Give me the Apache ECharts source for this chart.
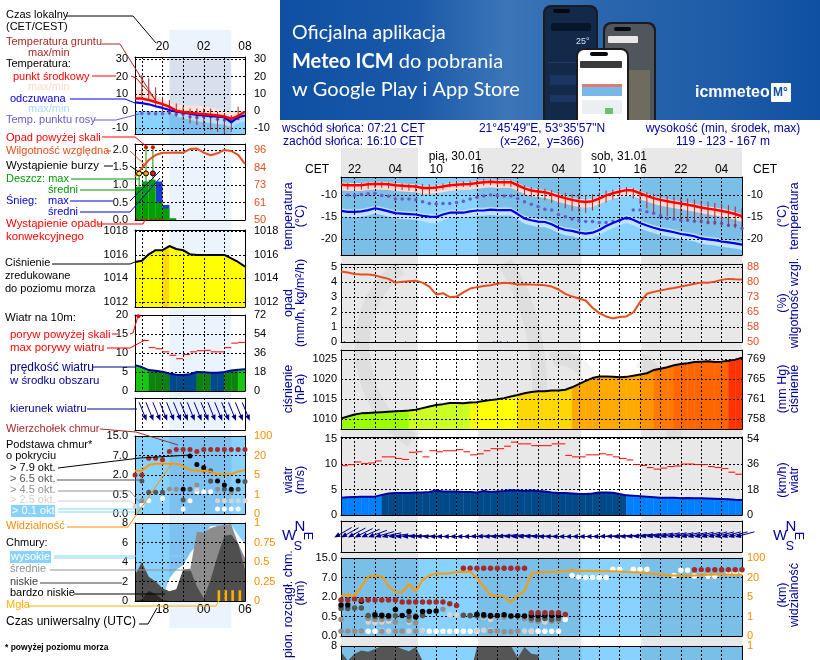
<!DOCTYPE html>
<html>
<head>
<meta charset="utf-8">
<title>Meteogram ICM</title>
<script src="https://cdn.jsdelivr.net/npm/echarts@6/dist/echarts.min.js"></script>
<style>
html, body { margin: 0; padding: 0; width: 820px; height: 660px; overflow: hidden; background: #fff; }
#chart { width: 820px; height: 760px; }
</style>
</head>
<body>
<div id="chart"></div>
<script>
// --- main meteogram, hour 0 = 20:00 CET 29.01, one value per hour
var mainTemp = [-7.7,-7.8,-7.8,-7.8,-7.6,-7.5,-7.5,-7.6,-7.8,-7.9,-8.0,-8.1,-8.4,-8.4,-8.3,-8.1,-7.8,-7.7,-7.6,-7.5,-7.3,-7.1,-7.0,-7.1,-7.1,-7.1,-7.8,-8.5,-9.0,-9.2,-9.4,-9.8,-10.3,-10.7,-11.1,-11.4,-11.6,-11.4,-10.8,-10.1,-9.6,-9.2,-8.9,-9.0,-9.6,-10.2,-10.7,-11.1,-11.4,-11.7,-11.9,-12.2,-12.5,-12.8,-13.1,-13.3,-13.6,-13.9,-14.3,-14.8];
var mainTempMax = [-7.2,-7.3,-7.3,-7.3,-7.1,-7.0,-7.0,-7.1,-7.3,-7.4,-7.5,-7.6,-7.9,-7.9,-7.8,-7.6,-7.3,-7.2,-7.1,-7.0,-6.8,-6.6,-6.5,-6.6,-6.6,-6.6,-7.3,-8.0,-8.5,-8.7,-8.9,-9.3,-9.8,-10.2,-10.6,-10.9,-11.1,-10.9,-10.3,-9.6,-9.1,-8.7,-8.4,-8.5,-9.1,-9.7,-10.2,-10.6,-10.9,-11.2,-11.4,-11.7,-12.0,-12.3,-12.6,-12.8,-13.1,-13.4,-13.8,-14.3];
var mainTempMin = [-9.0,-9.1,-9.1,-9.1,-8.9,-8.8,-8.8,-8.9,-9.1,-9.2,-9.3,-9.4,-9.7,-9.7,-9.6,-9.4,-9.1,-9.0,-8.9,-8.8,-8.6,-8.4,-8.3,-8.4,-8.4,-8.4,-9.1,-9.8,-10.3,-10.5,-10.7,-11.1,-11.6,-12.0,-12.4,-12.7,-12.9,-12.7,-12.1,-11.4,-10.9,-10.5,-10.2,-10.3,-10.9,-11.5,-12.0,-12.4,-12.7,-13.0,-13.2,-13.5,-13.8,-14.1,-14.4,-14.6,-14.9,-15.2,-15.6,-16.1];
var mainFeels = [-13.6,-13.8,-13.8,-13.7,-13.4,-13.0,-13.3,-13.7,-14.1,-14.2,-14.3,-14.4,-14.7,-14.9,-14.95,-14.4,-14.0,-14.0,-14.0,-13.7,-13.5,-13.5,-13.3,-13.4,-13.4,-13.4,-14.3,-15.3,-15.7,-16.0,-16.1,-16.6,-17.4,-17.9,-18.1,-18.5,-18.7,-18.5,-17.9,-17.0,-16.3,-15.7,-15.1,-15.6,-16.3,-16.9,-17.4,-17.8,-18.1,-18.4,-18.8,-19.0,-19.3,-19.8,-20.0,-20.2,-20.5,-20.7,-20.9,-21.2];
var mainFeelsMax = [-13.0,-13.2,-13.2,-13.1,-12.8,-12.4,-12.7,-13.1,-13.5,-13.6,-13.7,-13.8,-14.1,-14.3,-14.3,-13.8,-13.4,-13.4,-13.4,-13.1,-12.9,-12.9,-12.7,-12.8,-12.8,-12.8,-13.7,-14.7,-15.1,-15.4,-15.5,-16.0,-16.8,-17.3,-17.5,-17.9,-18.1,-17.9,-17.3,-16.4,-15.7,-15.1,-14.5,-15.0,-15.7,-16.3,-16.8,-17.2,-17.5,-17.8,-18.2,-18.4,-18.7,-19.2,-19.4,-19.6,-19.9,-20.1,-20.3,-20.6];
var mainFeelsMin = [-14.8,-15.0,-15.0,-14.9,-14.6,-14.2,-14.5,-14.9,-15.3,-15.4,-15.5,-15.6,-15.9,-16.3,-16.4,-15.7,-15.2,-15.2,-15.2,-14.9,-14.7,-14.7,-14.5,-14.6,-14.6,-14.6,-15.5,-16.5,-16.9,-17.2,-17.3,-17.8,-18.6,-19.1,-19.3,-19.7,-19.9,-19.7,-19.1,-18.2,-17.5,-16.9,-16.3,-16.8,-17.5,-18.1,-18.6,-19.0,-19.3,-19.6,-20.0,-20.2,-20.5,-21.0,-21.2,-21.4,-21.7,-21.9,-22.1,-22.4];
var mainDew = [null,-10,-10.1,-9.9,-9.7,-9.6,-10.1,-10.3,-10.9,-10.9,-10.9,-11.1,-11.5,-11.9,-12,-11.9,-11.9,-11.7,-11.4,-10.9,-10.5,-10.2,-10,-10.1,-10.2,-10.2,-10.8,-11.5,-12.1,-12.6,-13.2,-13.4,-14.4,-14.9,-15.4,-15.8,-16,-16,-16.2,-16.2,-16,-15.7,-15.3,-13.4,-13.4,-13.8,-14.1,-14.7,-15.3,-15.4,-15.7,-15.7,-15.9,-16,-16.2,-16.2,-16.4,-16.8,-16.9,-17.5];
var mainGroundMax = [null,-7.3,-7.3,-7.3,-7.1,-7.0,-7.0,-7.1,-7.3,-7.4,-7.5,-7.6,-7.5,-7.6,-7.6,-7.4,-7.0,-6.9,-6.9,-6.8,-6.6,-6.4,-6.4,-6.4,-6.5,-6.6,-7.0,-7.8,-8.2,-8.4,-8.6,-8.9,-9.3,-9.5,-9.8,-9.8,-10,-9.8,-9.5,-9,-8.8,-8.4,-8.2,-8.4,-9,-9.4,-9.8,-10,-10.2,-10.4,-10.6,-10.8,-11,-11.3,-11.5,-11.8,-12,-12.3,-12.6,-13];
var mainGroundMin = [null,-8.8,-8.9,-8.8,-8.6,-8.4,-8.4,-8.5,-8.8,-8.9,-9,-9.2,-10.2,-9.9,-9.2,-8.8,-8.3,-8.3,-8.2,-8.2,-8,-7.9,-7.8,-7.9,-8,-8.2,-9,-10,-10.4,-10.8,-11.2,-11.8,-12.4,-13,-13.6,-13.9,-14,-13.5,-12.6,-11.7,-11,-10.2,-10,-10.8,-12,-13,-14,-14.4,-14.8,-15.2,-15.4,-15.8,-16,-16.4,-16.6,-16.8,-17,-17.2,-17.5,-17.8];
var mainHumidity = [85.8,85.3,84.6,84.3,84.3,83.9,82.9,82.1,80.2,80.6,80.9,81.2,80.2,78.2,74.2,74.8,72.8,73.1,75.2,77.2,77.9,78.5,78.9,79.6,80.1,79.9,79.2,79.4,79.2,79.1,78.9,78.2,76.7,74.5,73.1,72.1,71.1,67.4,64.7,63.0,62.0,62.7,63,65,70.3,74.5,75.5,76.2,76.9,77.5,78.2,78.9,79.6,80.2,80.1,80.7,81.6,82.1,81.9,81.8];
var mainSnow = [[0,0.06],[2,0.05],[9,0.05],[22,0.05],[23,0.06],[24,0.05]];
var mainPressure = [1010.2,1010.7,1011.2,1011.5,1011.6,1011.7,1011.8,1011.9,1012.0,1012.1,1012.2,1012.4,1012.8,1013.2,1013.6,1013.8,1014.1,1014.1,1014.0,1014.2,1014.3,1014.6,1014.8,1015.0,1015.3,1015.7,1016.1,1016.5,1016.8,1017.0,1017.0,1017.2,1017.2,1017.4,1018.0,1018.8,1019.6,1020.3,1020.7,1020.7,1020.6,1020.5,1020.6,1020.9,1021.2,1021.5,1022.3,1022.6,1023.0,1023.5,1023.8,1024.0,1024.3,1024.4,1024.5,1024.3,1024.4,1024.6,1024.9,1025.4];
var mainWind = [3.4,3.5,3.55,3.6,3.6,3.6,3.95,4.2,4.3,4.3,4.3,4.4,4.4,4.5,4.8,4.6,4.6,4.6,4.5,4.5,4.4,4.7,4.5,4.6,4.7,4.85,4.8,4.7,4.8,4.7,4.6,4.4,4.3,4.3,4.2,4.1,4.1,4.2,4.4,4.4,4.35,4.1,3.85,3.8,3.7,3.6,3.5,3.4,3.4,3.4,3.3,3.35,3.3,3.3,3.25,3.2,3.15,3.1,3.0,2.95];
var mainGust = [9.67,9.87,10.4,10.07,10.2,10.6,11.4,11.4,11.1,10.9,12.3,12.4,11.4,12.6,12.4,12.6,12.6,12.8,12.4,11.8,12,12.6,13,13,13.5,14.3,13.95,13.95,13.6,13.6,13.6,13.95,13.95,11.7,11.4,11.4,11.8,11.8,12,11.8,11.4,11.1,10.8,9.9,9.7,9.3,9.0,9.2,9.5,9.6,10,10,9.9,9.9,9.5,9.3,9.1,8.4,8.0];
var mainWindDir = [60,61,62,64,66,70,74,78,82,85,86,87,88,89,90,90,90,90,90,89,88,87,86,85,84,84,85,86,87,88,89,90,90,90,90,90,90,90,89,88,87,86,85,84,82,81,80,79,78,78,78,77,77,76,76,75,75,75,75,75];
var mainVisibility = [5.8,7.1,6,13,24,27,24,13.5,8.9,8.6,15,9.2,18.2,28,37,35,37,42.4,42.4,44.8,19.5,13,6.5,5.8,5.3,3.9,6.5,9.6,35,40.8,42.4,43,44.8,47,50,47,47,47,46,46,46,44.8,43,42,41,38,35,32,28,28,27,27,28,29,31,32,32,32,31,31];
var mainCloudTop = [[0,1.77],[1,1.77],[2,1.85],[3,1.77],[4,1.77],[5,1.77],[6,1.77],[7,1.77],[8,1.77],[9,1.61],[10,1.61],[11,1.61],[12,1.61],[13,1.61],[14,1.61],[15,1.61],[16,1.48],[17,1.35],[18,10.8],[19,10.8],[20,10.8],[21,10.8],[22,10.8],[23,10.8],[24,10.8],[25,10.8],[26,10.8],[27,10.8],[28,0.78],[29,0.78],[30,0.78],[31,0.78],[32,0.78],[33,0.65],[52,10.2],[53,10.2],[54,10.2],[55,10.2],[56,10.2],[57,10.2],[58,10.2],[59,10.2]];
var mainBase79 = [[0,1.38],[1,1.38],[3,1.67],[5,0.63],[6,0.6],[7,0.55],[8,1.04],[9,0.58],[10,0.89],[11,0.49],[12,0.89],[13,0.89],[14,0.92],[20,0.68],[21,0.63],[22,0.58],[23,0.58],[24,0.63],[25,0.53],[26,0.55],[27,0.53],[28,0.58],[29,0.55],[30,0.58],[31,0.58],[32,0.58]];
var mainBase65 = [[0,1.12],[1,1.12],[2,1.15],[3,1.15],[4,0.58],[5,0.5],[6,0.5],[7,0.5],[8,0.55],[10,0.5],[11,0.53],[12,0.58],[18,0.6],[19,0.58],[20,0.55],[21,0.53],[22,0.5],[28,0.45],[29,0.42],[30,0.45],[31,0.42],[32,0.45]];
var mainBase45 = [[0,0.42],[4,0.45],[5,0.42],[6,0.42],[7,0.45],[8,0.36],[10,0.4],[11,0.34],[12,0.55],[15,1.05],[18,0.58],[19,0.53],[23,0.5],[24,0.48],[25,0.5],[26,0.5],[27,0.45],[28,0.4],[29,0.38],[31,0.38],[32,0.4],[0,0.12],[1,0.12],[2,0.12],[3,0.13],[6,0.12],[8,0.12],[9,0.12],[11,0.12],[22,0.12],[23,0.13],[24,0.11],[25,0.11],[26,0.13]];
var mainBase25 = [[4,0.36],[5,0.34],[6,0.36],[7,0.38],[10,0.36],[16,0.65],[17,0.62],[18,0.55],[21,0.48],[22,0.42],[30,0.36],[6,0.14],[7,0.13],[10,0.13],[12,0.14],[20,0.15],[21,0.15],[22,0.15],[27,0.13],[28,0.12]];
var mainBase01 = [[4,0.12],[5,0.12],[13,0.12],[14,0.12],[15,0.12],[16,0.12],[17,0.12],[18,0.12],[19,0.12],[20,0.13],[28,0.12],[29,0.12],[30,0.12],[31,0.12],[32,0.12],[33,0.42],[34,7.8],[35,7.2],[36,7],[37,7],[38,7],[39,7],[40,10.4],[41,10.4],[43,10.4],[44,10.4],[45,10.4],[49,7.8],[50,10],[51,10],[52,7.6],[53,10],[54,7.5],[55,7.5],[57,9],[58,9],[59,9]];
var mainCloudLow = [7.4,6.5,7.2,7.55,7.4,7.7,8,8,8,7.7,7.45,7.9,6.5,5,4,3,3,3,3,5,7.9,8,8,8,8,8,6.8,7.9,7.2,7.1,4,3,2,1,1,0,0,0,0,0,0,0,0,0,0,0,0,0,0,0,0,0,0,0,0,0,0,0,0,0];

// --- small meteogram on the left, hour 0 = 16:00 local time
var leftTemp = [7.3,7.2,6.4,5.2,4,2.5,0.2,-0.6,-1,-1.4,-1.7,-2.1,-2.6,-3.2,-4.5,-2.8,-0.4];
var leftTempMax = [13,11.8,10.5,9,6.8,5,3,3.2,3.2,3,2.8,2,1,0.6,-0.4,-0.6,0];
var leftTempMin = [7,6,5,4,2.8,1,0,-1,-1.5,-2,-2.5,-3,-3,-3.5,-5,-4,-2];
var leftFeels = [5,4.6,3.9,2.8,1.8,0.6,-0.4,-1,-1.5,-2.2,-2.6,-3,-3.3,-3.6,-6.5,-3.5,-2.7];
var leftFeelsMax = [0,0,0,0,0,0,-0.5,-1,-1,-1.5,-2,-2.5,-2.5,-3,-5,-3,-2];
var leftFeelsMin = [0,0,0,0,0,-0.5,-3,-4,-5,-6,-6.5,-7,-7.5,-8,-9.5,-7,-6];
var leftDew = [null,-1.4,-1.4,-1.6,-1.6,-1,-1.8,-1.8,-3.3,-3.7,-3.3,-3.3,-4.8,-5.2,-5.2,-4.3,null];
var leftGroundMax = [null,20.9,19,13.7,8.3,6.4,4.4,2.5,1.5,1.5,1.5,1.5,-0.4,-1.4,-2.3,2.5,null];
var leftGroundMin = [null,8.3,6.4,2.1,-0.4,-2.3,-3.3,-5.2,-7.2,-8.1,-9.1,-11,-12,-13,-12,-5.2,null];
var leftHumidity = [78.5,84,89.4,92.7,94.2,94.2,94.4,94.2,96.6,96.9,94.2,92.5,93.8,96,95.3,92.7,86.8];
var leftRain = [0.95,1.1,1.15,0.5,0.33,0.05];
var leftSnow = [0,0,0,1.1,0.43,0];
var leftRainMax = [[0.6,1.33],[1.6,2.05],[2.6,2.05]];
var leftOverScale = [[1.6,2.08],[2.6,2.08]];
var leftStorm = [0.6,1.6,2.6];
var stormColors = ['#ffee00','#ffa000','#ee1100'];
var leftConvective = [[0.3,0.02],[1,0.02],[1.6,0.02],[2.3,0.02],[3,0.02],[3.6,0.02],[4,0.02]];
var leftPressure = [1015.4,1015.5,1016.05,1016.4,1016.4,1016.75,1016.5,1016.4,1016.05,1016,1016,1016,1016,1016,1015.7,1015.4,1015];
var leftWind = [6.8,6.3,5.5,5.3,5.1,4.6,4.3,4.2,4.4,5,4.95,4.8,4.8,5,5.4,5.6,5.7];
var leftGust = [null,13.3,11.4,11.1,10.3,9.4,8.5,9.6,10.3,10.6,10.7,10.3,10.3,11.4,12.6,12.8];
var leftGustOver = [[0.5,19.7]];
var leftWindDir = [null,338,338,338,338,338,338,338,338,338,338,338,338,338,338,338,338];
var leftVisibility = [8.3,8.3,12.7,13.7,13.7,13.7,13.7,11.9,8.9,8.3,8.3,7.6,5.5,5.5,5.8,7.6,8.9];
var leftCloudTop = [[0,2],[1,2],[2,6.3],[3,6.3],[4,5.9],[5,8.6],[6,9.5],[7,9.5],[8,9.5],[9,8.6],[10,9.5],[11,9.5],[12,9.5],[13,9.5],[14,9.5],[15,9.5],[16,9.5]];
var leftBase79 = [[7,0.9],[8,6.9],[9,4.7],[10,3.9],[12,1.54],[13,1.23],[14,0.9],[15,1.54]];
var leftBase65 = [[1,1.54],[2,0.67],[3,0.67],[4,0.67],[7,0.36],[8,0.9],[10,3.3],[11,3.1],[11,1.54],[13,0.9],[15,0.9],[16,1.5]];
var leftBase45 = [[1,0.34],[5,0.9],[6,0.9],[9,1.23],[11,1.5],[12,0.9],[14,0.67]];
var leftBase25 = [[0,0.2],[5,0.85],[9,0.9],[12,0.34],[13,0.34],[14,0.34],[15,0.34],[16,0.34]];
var leftBase01 = [[1,0.23],[2,0.34],[4,0.4],[7,0.13],[8,0.34],[9,0.72],[10,0.72],[11,0.72],[12,0.13],[13,0.13],[14,0.13],[15,0.13]];
var leftCloudHigh = [0,0,0,0,0.3,2.3,3.2,3.7,4.9,5.8,6.6,7.7,7.7,7.8,7.8,6.8,5.8];
var leftCloudMid = [0,0,0,0,0.7,0.8,0.9,3,3.1,7.1,7,7.5,7.7,7.85,7.85,5.9,4.4];
var leftCloudLow = [2.7,3.95,2.5,2,1.3,1,1.2,3.2,3.3,1.5,0.3,2.2,4.6,6.7,6.8,5.9,3.2];
var leftCloudVeryLow = [0,0.2,1.05,0.7,0.1,0,0,0,0,0,0,0,0,0,0,0,0];
var leftFog = [[12.2,1.1],[13.2,1.1],[14.2,1.1],[15.25,1.1]];

// --- day and night bands, axis ticks
var mainNightBands = [[0,11.35],[20.17,35.35],[44.17,59]];
var leftNightBands = [[5,14]];
var mainGridHours = [2,5,8,11,14,17,20,23,26,29,32,35,38,41,44,47,50,53,56];
var mainLabelHours = [2,8,14,20,26,32,38,44,50,56];
var leftGridHours = [1,4,7,10,13];
var leftLabelHours = [4,10,16];
var baseStops = [0,0.5,2,7,15];
var baseLabels = ['0.0','0.5','2.0','7.0','15.0'];
var visStops = [0,1,5,20,100];

var FONT = '"Liberation Sans", Arial, sans-serif';
var NAVY = '#00009c';
var ORANGE = '#ff8c00';
var HUMID = '#e84e1c';
var TICK_SIZE = 11;

var grids = [], xAxes = [], yAxes = [], series = [];

function pad2(n) { return (n < 10 ? '0' : '') + n; }

function toStopAxis(v, stops) {
    for (var i = 0; i < stops.length - 1; i++) {
        if (v <= stops[i + 1]) return i + (v - stops[i]) / (stops[i + 1] - stops[i]);
    }
    return stops.length - 1;
}

function addPanel(o) {
    var idx = grids.length;
    grids.push({ left: o.left, top: o.top, width: o.width, height: o.height, show: false });
    var gridTicks = o.gridHours;
    var leftFmt = o.leftFormat || String;
    xAxes.push({
        type: 'value', gridIndex: idx, min: 0, max: o.xMax, position: 'bottom', z: 3,
        axisLine: { show: !o.hidden, onZero: false, lineStyle: { color: '#000' } },
        axisTick: { show: false, customValues: gridTicks },
        axisLabel: o.bottomLabels ? {
            customValues: o.bottomLabels.hours, margin: 3, color: '#000', fontFamily: FONT, fontSize: 12,
            formatter: o.bottomLabels.format
        } : { show: false, customValues: gridTicks },
        splitLine: { show: !o.hidden, lineStyle: { color: '#000', type: [2, 2], width: 1 } },
        show: !o.hidden
    });
    xAxes.push({
        type: 'value', gridIndex: idx, min: 0, max: o.xMax, position: 'top', z: 3,
        axisLine: { show: !o.hidden, onZero: false, lineStyle: { color: '#000' } },
        axisTick: { show: false, customValues: gridTicks },
        axisLabel: o.topLabels ? {
            customValues: o.topLabels.hours, margin: o.topLabels.margin, color: '#000', fontFamily: FONT, fontSize: 12,
            formatter: o.topLabels.format
        } : { show: false },
        splitLine: { show: false },
        show: !o.hidden
    });
    yAxes.push({
        type: 'value', gridIndex: idx, min: o.yMin, max: o.yMax, position: 'left', z: 3,
        axisLine: { show: !o.hidden, onZero: false, lineStyle: { color: '#000' } },
        axisTick: { show: false, customValues: o.ticks || [] },
        axisLabel: o.ticks ? {
            customValues: o.ticks, margin: o.leftMargin, color: '#000', fontFamily: FONT, fontSize: TICK_SIZE,
            formatter: leftFmt
        } : { show: false },
        splitLine: { show: !o.hidden && !!o.ticks, lineStyle: { color: '#000', type: [2, 2], width: 1 } },
        show: !o.hidden
    });
    yAxes.push({
        type: 'value', gridIndex: idx, min: o.rMin === undefined ? o.yMin : o.rMin, max: o.rMax === undefined ? o.yMax : o.rMax, position: 'right', z: 3,
        axisLine: { show: !o.hidden, onZero: false, lineStyle: { color: '#000' } },
        axisTick: { show: false, customValues: o.rTicks || o.ticks || [] },
        axisLabel: (o.rTicks || o.ticks) ? {
            customValues: o.rTicks || o.ticks, margin: o.rightMargin, color: o.rColor || '#000', fontFamily: FONT, fontSize: TICK_SIZE,
            formatter: o.rFormat || leftFmt
        } : { show: false },
        splitLine: { show: false },
        show: !o.hidden
    });
    return { grid: idx, x: 2 * idx, y: 2 * idx, yr: 2 * idx + 1 };
}

function pts(arr) {
    var res = [];
    for (var i = 0; i < arr.length; i++) res.push([i, arr[i]]);
    return res;
}

function lineSeries(p, arr, color, width, z) {
    series.push({
        type: 'line', xAxisIndex: p.x, yAxisIndex: p.y, data: pts(arr), showSymbol: false, silent: true,
        connectNulls: false, animation: false, z: z || 5, lineStyle: { color: color, width: width }
    });
}

function areaSeries(p, arr, color, z) {
    series.push({
        type: 'line', xAxisIndex: p.x, yAxisIndex: p.y, data: pts(arr), showSymbol: false, silent: true,
        animation: false, z: z || 2, lineStyle: { width: 0 }, areaStyle: { color: color, opacity: 1 }
    });
}

function dotSeries(p, data, color, size, z, mapFn, border) {
    series.push({
        type: 'scatter', xAxisIndex: p.x, yAxisIndex: p.y, silent: true, animation: false, z: z || 4, symbolSize: size,
        data: data.map(function (d) { return [d[0], mapFn ? mapFn(d[1]) : d[1]]; }),
        itemStyle: { color: color, borderColor: border || color, borderWidth: border ? 1 : 0, opacity: 1 }
    });
}

// rectangle over the whole height of the panel, from hour a to hour b
function bandSeries(p, bands, color, z) {
    series.push({
        type: 'custom', xAxisIndex: p.x, yAxisIndex: p.y, silent: true, animation: false, z: z, clip: true,
        data: bands,
        renderItem: function (params, api) {
            var a = api.coord([api.value(0), 0])[0], b = api.coord([api.value(1), 0])[0], cs = params.coordSys;
            return { type: 'rect', shape: { x: a, y: cs.y, width: b - a, height: cs.height }, style: { fill: color } };
        }
    });
}

function rangeFill(p, yHigh, yLow, xMax, color, z) {
    series.push({
        type: 'custom', xAxisIndex: p.x, yAxisIndex: p.y, silent: true, animation: false, z: z, clip: true,
        data: [[0, yHigh]],
        renderItem: function (params, api) {
            var a = api.coord([0, yHigh]), b = api.coord([xMax, yLow]);
            return { type: 'rect', shape: { x: a[0], y: a[1], width: b[0] - a[0], height: b[1] - a[1] }, style: { fill: color } };
        }
    });
}

function polyBand(p, hi, lo, color, z) {
    series.push({
        type: 'custom', xAxisIndex: p.x, yAxisIndex: p.y, silent: true, animation: false, z: z, clip: true,
        data: [[0, hi[0]]],
        renderItem: function (params, api) {
            var top = hi.map(function (v, i) { return api.coord([i, v]); });
            var bot = lo.map(function (v, i) { return api.coord([i, v]); }).reverse();
            return { type: 'polygon', shape: { points: top.concat(bot) }, style: { fill: color } };
        }
    });
}

// one trapezoid per hour, coloured from the value
function stepFill(p, arr, colorFn) {
    var data = [];
    for (var i = 0; i < arr.length - 1; i++) data.push([i, arr[i], arr[i + 1]]);
    series.push({
        type: 'custom', xAxisIndex: p.x, yAxisIndex: p.y, silent: true, animation: false, z: 2, clip: true,
        data: data,
        renderItem: function (params, api) {
            var h = api.value(0), a = api.coord([h, api.value(1)]), b = api.coord([h + 1, api.value(2)]);
            var bottom = params.coordSys.y + params.coordSys.height;
            var c = colorFn(api.value(1), api.value(2));
            return { type: 'polygon', shape: { points: [a, b, [b[0], bottom], [a[0], bottom]] }, style: { fill: c, stroke: c, lineWidth: 0.4 } };
        }
    });
}

function stepBars(p, arr, color, z) {
    var data = [];
    for (var i = 0; i < arr.length; i++) data.push([i, arr[i]]);
    series.push({
        type: 'custom', xAxisIndex: p.x, yAxisIndex: p.y, silent: true, animation: false, z: z, clip: true,
        data: data,
        renderItem: function (params, api) {
            var h = api.value(0), a = api.coord([h, api.value(1)]), b = api.coord([h + 1, 0]);
            return { type: 'rect', shape: { x: a[0], y: a[1], width: b[0] - a[0], height: b[1] - a[1] }, style: { fill: color } };
        }
    });
}

function stemBars(p, data, color, width, z) {
    series.push({
        type: 'custom', xAxisIndex: p.x, yAxisIndex: p.y, silent: true, animation: false, z: z, clip: true,
        data: data,
        renderItem: function (params, api) {
            var a = api.coord([api.value(0), api.value(1)]), b = api.coord([api.value(0), api.value(2)]);
            if (width > 1) return { type: 'rect', shape: { x: a[0] - width / 2, y: a[1], width: width, height: b[1] - a[1] }, style: { fill: color } };
            return { type: 'line', shape: { x1: a[0], y1: a[1], x2: b[0], y2: b[1] }, style: { stroke: color, lineWidth: width } };
        }
    });
}

function segSeries(p, arr, color) {
    var data = [];
    arr.forEach(function (v, i) { if (v !== null) data.push([i, v]); });
    series.push({
        type: 'custom', xAxisIndex: p.x, yAxisIndex: p.y, silent: true, animation: false, z: 5, clip: true,
        data: data,
        renderItem: function (params, api) {
            var h = api.value(0), a = api.coord([h, api.value(1)]), b = api.coord([h + 1, api.value(1)]);
            return { type: 'line', shape: { x1: a[0], y1: a[1], x2: b[0], y2: b[1] }, style: { stroke: color, lineWidth: 1 } };
        }
    });
}

function arrowSeries(p, dirs, len, offX, offY) {
    var data = [];
    dirs.forEach(function (d, i) { if (d !== null) data.push([i, d]); });
    series.push({
        type: 'custom', xAxisIndex: p.x, yAxisIndex: p.y, silent: true, animation: false, z: 5, clip: false,
        data: data,
        renderItem: function (params, api) {
            var cs = params.coordSys;
            var hx = api.coord([api.value(0), 0])[0] + offX, hy = cs.y + cs.height / 2 + offY;
            var rad = api.value(1) * Math.PI / 180, vx = -Math.sin(rad), vy = Math.cos(rad);
            var tx = hx - vx * len, ty = hy - vy * len;
            return {
                type: 'group', children: [
                    { type: 'line', shape: { x1: tx, y1: ty, x2: hx, y2: hy }, style: { stroke: '#00008b', lineWidth: 1 } },
                    { type: 'polygon', shape: { points: [[hx + vx * 2, hy + vy * 2], [hx - vx * 4 - vy * 2.5, hy - vy * 4 + vx * 2.5], [hx - vx * 4 + vy * 2.5, hy - vy * 4 - vx * 2.5]] }, style: { fill: '#00008b' } }
                ]
            };
        }
    });
}

function groundData(hi, lo) {
    var d = [];
    hi.forEach(function (v, i) { if (v !== null) d.push([i, v, lo[i]]); });
    return d;
}

function mainPressureColor(v) {
    if (v <= 1012.15) return '#99ff00';
    if (v <= 1014.1) return '#ccff22';
    if (v <= 1016.0) return '#ffff00';
    if (v <= 1017.6) return '#ffd800';
    if (v <= 1021.0) return '#ffaa00';
    if (v <= 1022.0) return '#ff9400';
    if (v <= 1023.2) return '#ff7a00';
    if (v <= 1024.5) return '#ff6600';
    return '#ff3300';
}
function leftPressureColor(v, next) { return next > 1016.7 ? '#ffd800' : '#ffff00'; }
function windColor(v) {
    if (v < 3.9) return '#0080ff';
    if (v < 4.87) return '#004a8a';
    if (v < 5.55) return '#0d830d';
    return '#14c810';
}
function mainHour(v) { return pad2((20 + v) % 24); }
function leftHour(v) { return pad2((16 + v) % 24); }
function utcHour(v) { return pad2((14 + v) % 24); }
function round(v) { return String(Math.round(v)); }
function mmHg(v) { return String(Math.round(v * 0.75006)); }
function kmh(v) { return String(Math.round(v * 3.6)); }
function baseLabel(v) { return baseLabels[v]; }
function visLabel(v) { return String(visStops[v]); }
function baseAxis(v) { return toStopAxis(v, baseStops); }
function visAxisData(arr) { return arr.map(function (v) { return toStopAxis(v, visStops); }); }

// full height day/night background
var bgMain = addPanel({ left: 341, top: 148, width: 401, height: 612, xMax: 59, yMin: 0, yMax: 1, hidden: true, gridHours: [] });
var bgLeft = addPanel({ left: 135, top: 30, width: 110, height: 598, xMax: 16, yMin: 0, yMax: 1, hidden: true, gridHours: [] });
bandSeries(bgLeft, leftNightBands, '#ebf3fd', 0);

var M = { left: 341, width: 401, xMax: 59, leftMargin: 4, rightMargin: 5, gridHours: mainGridHours };
var L = { left: 135, width: 110, xMax: 16, leftMargin: 7, rightMargin: 9, gridHours: leftGridHours };
function cfg(base, extra) { return Object.assign({}, base, extra); }

// main panels
var mT = addPanel(cfg(M, { top: 177, height: 78, yMin: -23.54, yMax: -5.94, ticks: [-10, -15, -20],
    topLabels: { hours: mainLabelHours, margin: 1, format: mainHour } }));
var mP = addPanel(cfg(M, { top: 264, height: 78, yMin: 0, yMax: 5.22, ticks: [0, 1, 2, 3, 4, 5],
    rMin: 50, rMax: 89.67, rTicks: [50, 57.6, 65.2, 72.8, 80.4, 88], rFormat: round, rColor: HUMID }));
var mC = addPanel(cfg(M, { top: 350, height: 79, yMin: 1007.6, yMax: 1027.3, ticks: [1010, 1015, 1020, 1025],
    rFormat: mmHg }));
var mW = addPanel(cfg(M, { top: 437, height: 78, yMin: 0, yMax: 15.3, ticks: [0, 5, 10, 15], rFormat: kmh }));
var mD = addPanel(cfg(M, { top: 521, height: 31, yMin: 0, yMax: 1 }));
var mB = addPanel(cfg(M, { top: 558, height: 78, yMin: 0, yMax: 4, ticks: [0, 1, 2, 3, 4], leftFormat: baseLabel,
    rFormat: visLabel, rColor: ORANGE }));
var mN = addPanel(cfg(M, { top: 646, height: 78, yMin: 0, yMax: 8, ticks: [0, 2, 4, 6, 8],
    rMin: 0, rMax: 1, rTicks: [0, 0.25, 0.5, 0.75, 1], rFormat: String, rColor: ORANGE }));

// left panels
var lT = addPanel(cfg(L, { top: 57, height: 77, yMin: -13.3, yMax: 31.3, ticks: [-10, 0, 10, 20, 30],
    topLabels: { hours: leftLabelHours, margin: 4, format: leftHour } }));
var lP = addPanel(cfg(L, { top: 144, height: 76, yMin: 0, yMax: 2.17, ticks: [0, 0.5, 1, 1.5, 2],
    leftFormat: function (v) { return v.toFixed(1); },
    rMin: 50, rMax: 99.9, rTicks: [50, 61.4, 73, 84.4, 96], rFormat: round, rColor: HUMID }));
var lC = addPanel(cfg(L, { top: 230, height: 77, yMin: 1011.58, yMax: 1018.11, ticks: [1012, 1014, 1016, 1018] }));
var lW = addPanel(cfg(L, { top: 315, height: 76, yMin: 0, yMax: 20, ticks: [0, 5, 10, 15, 20], rFormat: kmh }));
var lD = addPanel(cfg(L, { top: 398, height: 32, yMin: 0, yMax: 1 }));
var lB = addPanel(cfg(L, { top: 436, height: 78, yMin: 0, yMax: 4, ticks: [0, 1, 2, 3, 4], leftFormat: baseLabel,
    rFormat: visLabel, rColor: ORANGE }));
var lN = addPanel(cfg(L, { top: 523, height: 78, yMin: 0, yMax: 8, ticks: [0, 2, 4, 6, 8],
    rMin: 0, rMax: 1, rTicks: [0, 0.25, 0.5, 0.75, 1], rFormat: String, rColor: ORANGE,
    bottomLabels: { hours: leftLabelHours, format: utcHour } }));

// sky backgrounds sit under the night bands
var SKY = '#87d2ff';
rangeFill(mT, -5.94, -23.54, 59, SKY, 0);
rangeFill(mB, 4, 0, 59, SKY, 0);
rangeFill(mN, 8, 0, 59, SKY, 0);
rangeFill(lT, 0, -13.3, 16, SKY, 0);
rangeFill(lB, 4, 0, 16, SKY, 0);
rangeFill(lN, 8, 0, 16, SKY, 0);
bandSeries(bgMain, mainNightBands, 'rgba(0,0,0,0.09)', 1);
bandSeries(lT, leftNightBands, 'rgba(0,0,60,0.08)', 1);
bandSeries(lB, leftNightBands, 'rgba(0,0,60,0.08)', 1);
bandSeries(lN, leftNightBands, 'rgba(0,0,60,0.08)', 1);

// temperature
polyBand(mT, mainFeelsMax, mainFeelsMin, '#bfe3ff', 2);
polyBand(mT, mainTempMax, mainTempMin, '#ffd9d2', 2);
stemBars(mT, groundData(mainGroundMax, mainGroundMin), '#a52a2a', 1, 5);
dotSeries(mT, pts(mainDew).filter(function (d) { return d[1] !== null; }), '#6a5acd', 3.5, 4);
lineSeries(mT, mainFeels, '#0000ee', 2.2);
lineSeries(mT, mainTemp, '#ff0000', 2.5);

polyBand(lT, leftTempMax, leftTempMin, '#ffe3d8', 2);
polyBand(lT, leftFeelsMax, leftFeelsMin, '#aee0ff', 2);
stemBars(lT, groundData(leftGroundMax, leftGroundMin), '#a52a2a', 1, 5);
dotSeries(lT, pts(leftDew).filter(function (d) { return d[1] !== null; }), '#6a5acd', 3.5, 4);
lineSeries(lT, leftFeels, '#0000ee', 2.2);
lineSeries(lT, leftTemp, '#ff0000', 2.5);

// precipitation and humidity
stemBars(mP, mainSnow.map(function (d) { return [d[0] + 0.5, d[1], 0]; }), '#2040e0', 1, 4);
series.push({ type: 'line', xAxisIndex: mP.x, yAxisIndex: mP.yr, data: pts(mainHumidity), showSymbol: false, silent: true, animation: false, z: 5, lineStyle: { color: HUMID, width: 2 } });

stepBars(lP, leftSnow, '#1a3ccc', 2);
stepBars(lP, leftRain, '#00a000', 2);
stemBars(lP, leftRainMax.map(function (d) { return [d[0], d[1], 0.9]; }), '#00a000', 1, 4);
dotSeries(lP, leftOverScale, '#ee0000', 4, 6);
leftStorm.forEach(function (h, i) { dotSeries(lP, [[h, 1.33]], stormColors[i], 5, 6, null, '#000'); });
dotSeries(lP, leftConvective, '#ee0000', 2, 6);
series.push({ type: 'line', xAxisIndex: lP.x, yAxisIndex: lP.yr, data: pts(leftHumidity), showSymbol: false, silent: true, animation: false, z: 5, lineStyle: { color: HUMID, width: 2 } });

// pressure
stepFill(mC, mainPressure, mainPressureColor);
lineSeries(mC, mainPressure, '#000', 2);
stepFill(lC, leftPressure, leftPressureColor);
lineSeries(lC, leftPressure, '#000', 2);

// wind
stepFill(mW, mainWind, windColor);
lineSeries(mW, mainWind, '#0000a0', 2);
segSeries(mW, mainGust, '#ff0000');
stepFill(lW, leftWind, windColor);
lineSeries(lW, leftWind, '#0000a0', 2);
segSeries(lW, leftGust, '#ff0000');
dotSeries(lW, leftGustOver, '#ff0000', 4, 6);

arrowSeries(mD, mainWindDir, 18, -5, 0);
arrowSeries(lD, leftWindDir, 18, 4, 5);

// cloud base, tops and visibility
function baseDots(p, size, top, b79, b65, b45, b25, b01) {
    dotSeries(p, b01, '#ffffff', size, 4, baseAxis);
    dotSeries(p, b25, '#d4d4d4', size, 4, baseAxis);
    dotSeries(p, b45, '#909090', size, 4, baseAxis);
    dotSeries(p, b65, '#555555', size, 4, baseAxis);
    dotSeries(p, b79, '#000000', size, 4, baseAxis);
    dotSeries(p, top, '#a52a2a', size, 4, baseAxis);
}
baseDots(mB, 5.5, mainCloudTop, mainBase79, mainBase65, mainBase45, mainBase25, mainBase01);
lineSeries(mB, visAxisData(mainVisibility), '#ff9a00', 2);
baseDots(lB, 5, leftCloudTop, leftBase79, leftBase65, leftBase45, leftBase25, leftBase01);
lineSeries(lB, visAxisData(leftVisibility), '#ff9a00', 2);

// cloud cover
areaSeries(mN, mainCloudLow, '#555555', 2);
areaSeries(lN, leftCloudHigh, '#ffffff', 2);
areaSeries(lN, leftCloudMid, '#8c8c8c', 2);
areaSeries(lN, leftCloudLow, '#4f4f4f', 2);
areaSeries(lN, leftCloudVeryLow, '#2a2a2a', 2);
stemBars(lN, leftFog.map(function (d) { return [d[0], d[1], 0]; }), '#ffb000', 2.6, 4);

// --- texts, leader lines and the banner
function txt(x, y, text, fill, extra) {
    return { type: 'text', x: x, y: y, z: 20, silent: true, style: Object.assign({ text: text, fill: fill, font: '11px ' + FONT, verticalAlign: 'middle' }, extra || {}) };
}
function rot(x, y, text, fill, deg) {
    return { type: 'text', x: x, y: y, z: 20, silent: true, rotation: (deg || 90) * Math.PI / 180, style: { text: text, fill: fill, font: '12.5px ' + FONT, align: 'center', verticalAlign: 'middle' } };
}
function ld(points, stroke) {
    return { type: 'polyline', z: 19, silent: true, shape: { points: points }, style: { stroke: stroke, lineWidth: 1, fill: null } };
}
function box(x, y, w, h, fill, z, r) {
    return { type: 'rect', z: z || 18, silent: true, shape: { x: x, y: y, width: w, height: h, r: r || 0 }, style: { fill: fill } };
}
function wm(pointsA) {
    return { type: 'bezierCurve', z: 1, silent: true, shape: pointsA, style: { stroke: 'rgba(0,0,0,0.04)', lineWidth: 15, fill: null } };
}

var BROWN = '#a52a2a', RED = '#ff0000', PEACH = '#ffd9c8', SKYTXT = '#a8dcff', BLUE = '#0000dd';
var PURPLE = '#6a5acd', GREEN = '#009900', GRAY5 = '#555555', GRAY9 = '#909090', GRAYD = '#d4d0c8';
var F12 = { font: '12px ' + FONT }, F114 = { font: '11.4px ' + FONT };
var legend = [
    txt(6, 15, 'Czas lokalny', '#000'), txt(6, 27, '(CET/CEST)', '#000'),
    ld([[66, 16], [133, 16], [156, 43]], '#000'),
    txt(6, 42, 'Temperatura gruntu', BROWN), txt(28, 53, 'max/min', BROWN),
    ld([[102, 44], [120, 44], [157, 103]], BROWN),
    txt(6, 64, 'Temperatura:', '#000'),
    txt(13, 77, 'punkt środkowy', RED), ld([[92, 76], [116, 76]], RED), ld([[131, 76], [136, 78], [156, 100]], RED),
    txt(28, 87, 'max/min', PEACH),
    txt(10, 99, 'odczuwana', BLUE), ld([[70, 99], [125, 99], [135, 103]], BLUE),
    txt(28, 109, 'max/min', SKYTXT),
    txt(6, 120, 'Temp. punktu rosy', PURPLE), ld([[94, 120], [116, 120], [139, 114]], PURPLE),
    txt(6, 138, 'Opad powyżej skali', RED), ld([[102, 137], [135, 137], [146, 146]], RED),
    txt(6, 151, 'Wilgotność względna', HUMID), ld([[106, 151], [111, 151]], HUMID), ld([[130, 151], [145, 165]], HUMID),
    txt(6, 166, 'Wystąpienie burzy', '#000', F114), ld([[104, 166], [113, 166]], '#000'), ld([[130, 166], [139, 172]], '#000'),
    txt(6, 179, 'Deszcz: max', GREEN), ld([[71, 179], [140, 179]], GREEN),
    txt(48, 190, 'średni', GREEN), ld([[80, 190], [146, 190]], GREEN),
    txt(6, 201, 'Śnieg:', BLUE), txt(48, 201, 'max', BLUE), ld([[70, 201], [113, 201]], BLUE), ld([[130, 201], [160, 171]], BLUE),
    txt(48, 212, 'średni', BLUE), ld([[80, 212], [130, 212], [160, 178]], BLUE),
    txt(6, 224, 'Wystąpienie opadu', RED, F114), ld([[98, 224], [143, 224], [145, 220]], RED), txt(6, 237, 'konwekcyjnego', RED, F114),
    txt(5, 263, 'Ciśnienie', '#000'), ld([[52, 264], [130, 264], [135, 262]], '#000'),
    txt(5, 276, 'zredukowane', '#000'), txt(5, 289, 'do poziomu morza', '#000'),
    txt(5, 318, 'Wiatr na 10m:', '#000', F114),
    txt(10, 335, 'poryw powyżej skali', RED, F114), ld([[112, 334], [118, 334]], RED), ld([[130, 334], [133, 333], [138, 316]], RED),
    txt(10, 348, 'max porywy wiatru', RED, F114), ld([[107, 348], [130, 348], [145, 340]], RED),
    txt(10, 368, 'prędkość wiatru', '#00008b', F12), ld([[92, 367], [135, 367]], '#00008b'),
    txt(10, 381, 'w środku obszaru', '#00008b', F114),
    txt(10, 409, 'kierunek wiatru', '#00008b', F114), ld([[87, 409], [137, 409]], '#00008b'),
    txt(6, 429, 'Wierzchołek chmur', BROWN), ld([[100, 429], [136, 432], [178, 445]], BROWN),
    txt(6, 445, 'Podstawa chmur*', '#000'), txt(6, 456, 'o pokryciu', '#000'),
    txt(10, 468, '> 7.9 okt.', '#000'), ld([[58, 468], [140, 458], [190, 455]], '#000'),
    txt(10, 479, '> 6.5 okt.', GRAY5), ld([[57, 480], [143, 480]], GRAY5),
    txt(10, 490, '> 4.5 okt.', GRAY9), ld([[58, 491], [130, 491], [140, 503]], GRAY9),
    txt(10, 500, '> 2.5 okt.', GRAYD), ld([[58, 501], [130, 501], [137, 506]], GRAYD),
    box(11, 505, 44, 12, SKY), txt(12, 511, '> 0.1 okt.', '#fff'),
    ld([[58, 509], [135, 509]], SKY), ld([[58, 512], [135, 512]], SKY),
    txt(6, 526, 'Widzialność', ORANGE), ld([[67, 527], [128, 527], [172, 463]], ORANGE),
    txt(6, 543, 'Chmury:', '#000'),
    box(10, 551, 41, 12, SKY), txt(11, 557, 'wysokie', '#fff'),
    ld([[54, 556], [186, 556]], SKY), ld([[54, 558], [135, 558]], SKY),
    txt(10, 569, 'średnie', GRAY9), ld([[50, 570], [192, 570]], GRAY9),
    txt(10, 582, 'niskie', '#404040'), ld([[40, 583], [122, 583]], '#404040'),
    txt(10, 593, 'bardzo niskie', '#000'), ld([[74, 594], [165, 594]], '#000'),
    txt(6, 605, 'Mgła', '#ffb000'), ld([[28, 606], [216, 606], [219, 600]], '#ffb000'),
    txt(6, 622, 'Czas uniwersalny (UTC)', '#000', F12), ld([[139, 624], [148, 624], [157, 608]], '#000'),
    txt(5, 648, '* powyżej poziomu morza', '#000', { font: 'bold 8.5px ' + FONT })
];

var header = [
    txt(282, 129, 'wschód słońca: 07:21 CET', NAVY, F12), txt(283, 142, 'zachód słońca: 16:10 CET', NAVY, F12),
    txt(542, 129, '21°45\'49"E, 53°35\'57"N', NAVY, { align: 'center', font: '12px ' + FONT }), txt(542, 142, '(x=262,  y=366)', NAVY, { align: 'center', font: '12px ' + FONT }),
    txt(723, 129, 'wysokość (min, środek, max)', NAVY, { align: 'center', font: '12px ' + FONT }), txt(723, 142, '119 - 123 - 167 m', NAVY, { align: 'center', font: '12px ' + FONT }),
    txt(455, 157, 'pią, 30.01', '#000', { align: 'center', font: '12px ' + FONT }), txt(619, 157, 'sob, 31.01', '#000', { align: 'center', font: '12px ' + FONT }),
    txt(317, 170, 'CET', '#000', { align: 'center', font: '12px ' + FONT }), txt(765, 170, 'CET', '#000', { align: 'center', font: '12px ' + FONT })
];

var axisNames = [
    rot(289, 216, 'temperatura', NAVY), rot(301, 216, '(°C)', NAVY), rot(783, 216, '(°C)', NAVY), rot(795, 216, 'temperatura', NAVY),
    rot(289, 303, 'opad', NAVY), rot(301, 303, '(mm/h, kg/m²/h)', NAVY), rot(783, 303, '(%)', NAVY), rot(795, 303, 'wilgotność wzgl.', NAVY),
    rot(289, 389, 'ciśnienie', NAVY), rot(301, 389, '(hPa)', NAVY), rot(783, 389, '(mm Hg)', NAVY), rot(795, 389, 'ciśnienie', NAVY),
    rot(289, 480, 'wiatr', NAVY), rot(301, 480, '(m/s)', NAVY), rot(783, 480, '(km/h)', NAVY), rot(795, 480, 'wiatr', NAVY),
    rot(289, 611, 'e  pion. rozciągł. chm.', NAVY), rot(301, 593, '(km)', NAVY), rot(783, 595, '(km)', NAVY), rot(795, 595, 'widzialność', NAVY),
    txt(289, 536, 'W', NAVY, { align: 'center', font: '15px ' + FONT }), txt(300, 527, 'N', NAVY, { align: 'center', font: '15px ' + FONT }),
    rot(307, 536, 'E', NAVY, -90), rot(298, 544, 'S', NAVY, 180),
    txt(780, 536, 'W', NAVY, { align: 'center', font: '15px ' + FONT }), txt(791, 527, 'N', NAVY, { align: 'center', font: '15px ' + FONT }),
    rot(798, 536, 'E', NAVY, -90), rot(790, 544, 'S', NAVY, 180)
];

var watermark = [
    wm({ x1: 400, y1: 268, x2: 362, y2: 350, cpx1: 370, cpy1: 290, cpx2: 362, cpy2: 320 }),
    wm({ x1: 362, y1: 350, x2: 412, y2: 440, cpx1: 364, cpy1: 390, cpx2: 385, cpy2: 425 }),
    wm({ x1: 505, y1: 263, x2: 538, y2: 420, cpx1: 530, cpy1: 300, cpx2: 545, cpy2: 360 }),
    wm({ x1: 552, y1: 360, x2: 600, y2: 420, cpx1: 575, cpy1: 350, cpx2: 600, cpy2: 380 }),
    wm({ x1: 640, y1: 360, x2: 675, y2: 440, cpx1: 665, cpy1: 375, cpx2: 672, cpy2: 410 })
];

var bannerFill = { type: 'linear', x: 0, y: 0, x2: 1, y2: 0, colorStops: [
    { offset: 0, color: '#0f50a4' }, { offset: 0.25, color: '#1a58a8' }, { offset: 0.42, color: '#3c76b8' },
    { offset: 0.6, color: '#2a66ae' }, { offset: 0.82, color: '#1e5ca8' }, { offset: 1, color: '#0f50a2' }
] };
var lato = 'Lato, "Open Sans", sans-serif';
var banner = [
    box(280, 0, 540, 120, bannerFill, 15),
    txt(292, 33, 'Oficjalna aplikacja', '#fff', { font: '19.5px ' + lato }),
    txt(292, 62, '{b|Meteo ICM} do pobrania', '#fff', { font: '20px ' + lato, rich: { b: { font: 'bold 20px ' + lato, fill: '#fff' } } }),
    txt(292, 90, 'w Google Play i App Store', '#fff', { font: '20px ' + lato }),
    // phones
    box(543, 5, 55, 115, '#1c1c1f', 16, [8, 8, 0, 0]), box(545, 7, 51, 113, '#12294a', 16, [7, 7, 0, 0]),
    box(553, 9, 17, 4, '#05080f', 16, 2), box(551, 23, 40, 8, '#08162c', 16, 2),
    txt(576, 42, '25°', '#cfe0f5', { font: '9px ' + FONT }),
    box(548, 62, 36, 0.5, '#30507a', 16), box(550, 75, 28, 10, '#1b3660', 16), box(550, 95, 28, 7, '#1b3660', 16),
    box(603, 22, 53, 98, '#1c1c1f', 16, [8, 8, 0, 0]), box(605, 24, 49, 96, '#51565c', 16, [7, 7, 0, 0]),
    box(610, 70, 40, 50, '#6f6b5e', 16), box(608, 36, 30, 7, '#e8e8e8', 16, 1), box(614, 27, 17, 4, '#05080f', 16, 2),
    box(576, 48, 53, 72, '#1c1c1f', 17, [8, 8, 0, 0]), box(578, 50, 49, 70, '#ffffff', 17, [6, 6, 0, 0]),
    box(580, 61, 42, 7, '#3a3a3a', 17, 1), box(590, 52, 18, 4, '#05080f', 17, 2),
    box(582, 87, 40, 9, '#78b8e8', 17), box(582, 84, 40, 3, '#e07a70', 17), box(582, 100, 40, 14, '#eceff2', 17),
    box(605, 108, 8, 6, '#69c36a', 17),
    txt(695, 93, 'icmmeteo', '#fff', { font: 'bold 16px ' + FONT }),
    box(771, 83, 20, 19, '#ffffff', 18, 1),
    txt(773, 93, 'M°', '#1050a0', { font: 'bold 12px ' + FONT })
];

var chart = echarts.init(document.getElementById('chart'), null, { renderer: 'canvas' });
chart.setOption({
    animation: false,
    backgroundColor: '#fff',
    grid: grids,
    xAxis: xAxes,
    yAxis: yAxes,
    series: series,
    graphic: { elements: watermark.concat(banner, header, axisNames, legend) }
});
</script>
</body>
</html>
